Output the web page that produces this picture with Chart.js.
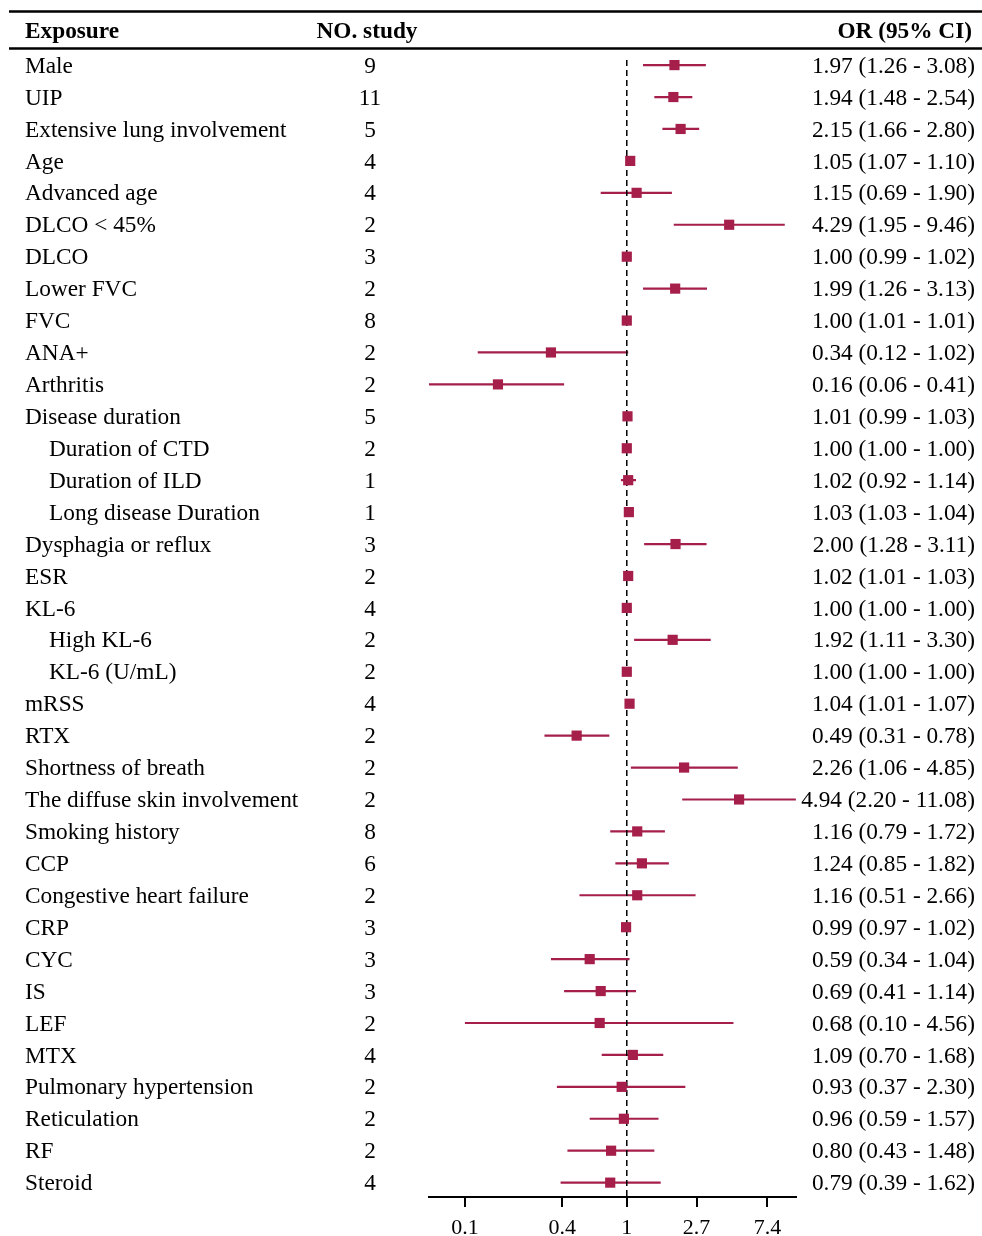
<!DOCTYPE html>
<html>
<head>
<meta charset="utf-8">
<script src="https://cdn.jsdelivr.net/npm/chart.js@4.4.1/dist/chart.umd.min.js"></script>
<style>
  body { margin: 0; background: #fff; }
  canvas { display: block; }
</style>
</head>
<body>
<canvas id="forest" width="982" height="1236"></canvas>
<script>
// rows of the forest plot
const exposures = [
  'Male', 'UIP', 'Extensive lung involvement', 'Age', 'Advanced age', 'DLCO < 45%',
  'DLCO', 'Lower FVC', 'FVC', 'ANA+', 'Arthritis', 'Disease duration',
  'Duration of CTD', 'Duration of ILD', 'Long disease Duration', 'Dysphagia or reflux',
  'ESR', 'KL-6', 'High KL-6', 'KL-6 (U/mL)', 'mRSS', 'RTX', 'Shortness of breath',
  'The diffuse skin involvement', 'Smoking history', 'CCP', 'Congestive heart failure',
  'CRP', 'CYC', 'IS', 'LEF', 'MTX', 'Pulmonary hypertension', 'Reticulation', 'RF', 'Steroid'
];
const subRows = ['Duration of CTD', 'Duration of ILD', 'Long disease Duration', 'High KL-6', 'KL-6 (U/mL)'];
const nStudy = [9, 11, 5, 4, 4, 2, 3, 2, 8, 2, 2, 5, 2, 1, 1, 3, 2, 4, 2, 2, 4, 2, 2, 2, 8, 6, 2, 3, 3, 3, 2, 4, 2, 2, 2, 4];
const orValues = [1.97, 1.94, 2.15, 1.05, 1.15, 4.29, 1.00, 1.99, 1.00, 0.34, 0.16, 1.01, 1.00, 1.02, 1.03, 2.00,
  1.02, 1.00, 1.92, 1.00, 1.04, 0.49, 2.26, 4.94, 1.16, 1.24, 1.16, 0.99, 0.59, 0.69, 0.68, 1.09, 0.93, 0.96, 0.80, 0.79];
const ciLow = [1.26, 1.48, 1.66, 1.07, 0.69, 1.95, 0.99, 1.26, 1.01, 0.12, 0.06, 0.99, 1.00, 0.92, 1.03, 1.28,
  1.01, 1.00, 1.11, 1.00, 1.01, 0.31, 1.06, 2.20, 0.79, 0.85, 0.51, 0.97, 0.34, 0.41, 0.10, 0.70, 0.37, 0.59, 0.43, 0.39];
const ciHigh = [3.08, 2.54, 2.80, 1.10, 1.90, 9.46, 1.02, 3.13, 1.01, 1.02, 0.41, 1.03, 1.00, 1.14, 1.04, 3.11,
  1.03, 1.00, 3.30, 1.00, 1.07, 0.78, 4.85, 11.08, 1.72, 1.82, 2.66, 1.02, 1.04, 1.14, 4.56, 1.68, 2.30, 1.57, 1.48, 1.62];
const tickValues = [0.1, 0.4, 1, 2.7, 7.4];
const tickLabels = ['0.1', '0.4', '1', '2.7', '7.4'];

const markColor = '#a51f4a';
const serif = '"Liberation Serif", "Times New Roman", serif';

const boxes = orValues.map((v, i) => ({ x: v, y: i }));
const ciSegments = [];
ciLow.forEach((lo, i) => {
  ciSegments.push({ x: lo, y: i }, { x: ciHigh[i], y: i }, { x: null, y: null });
});

// table text: headers, row labels, study counts, OR (95% CI)
const tableText = {
  id: 'tableText',
  afterDraw(chart) {
    const ctx = chart.ctx;
    const y = chart.scales.y;
    ctx.save();
    ctx.strokeStyle = '#000';
    ctx.lineWidth = 2.5;
    ctx.beginPath();
    ctx.moveTo(9, 11.5); ctx.lineTo(982, 11.5);
    ctx.moveTo(9, 48.5); ctx.lineTo(982, 48.5);
    ctx.stroke();

    ctx.fillStyle = '#000';
    ctx.textBaseline = 'middle';
    ctx.font = 'bold 23.3px ' + serif;
    ctx.textAlign = 'left';
    ctx.fillText('Exposure', 25, 31.5);
    ctx.textAlign = 'center';
    ctx.fillText('NO. study', 367, 31.5);
    ctx.textAlign = 'right';
    ctx.fillText('OR (95% CI)', 972, 31.5);

    ctx.font = '23.3px ' + serif;
    exposures.forEach((name, i) => {
      const py = y.getPixelForValue(i) + 1.5;
      ctx.textAlign = 'left';
      ctx.fillText(name, subRows.includes(name) ? 49 : 25, py);
      ctx.textAlign = 'center';
      ctx.fillText(String(nStudy[i]), 370, py);
      ctx.textAlign = 'right';
      ctx.fillText(orValues[i].toFixed(2) + ' (' + ciLow[i].toFixed(2) + ' - ' + ciHigh[i].toFixed(2) + ')', 975, py);
    });
    ctx.restore();
  }
};

new Chart(document.getElementById('forest'), {
  type: 'scatter',
  data: {
    datasets: [
      {
        data: boxes,
        pointStyle: 'rect',
        pointRadius: 7.2,
        backgroundColor: markColor,
        borderColor: markColor,
        borderWidth: 0,
        order: 0
      },
      {
        data: [{ x: 1, y: -0.16 }, { x: 1, y: 35.45 }],
        showLine: true,
        pointRadius: 0,
        borderColor: '#000',
        borderWidth: 1.5,
        borderDash: [6, 4],
        order: 1
      },
      {
        data: ciSegments,
        showLine: true,
        spanGaps: false,
        pointRadius: 0,
        borderColor: markColor,
        borderWidth: 2.2,
        order: 2
      }
    ]
  },
  options: {
    responsive: false,
    animation: false,
    layout: { padding: { left: 429, right: 186, top: 60, bottom: 0 } },
    plugins: { legend: { display: false }, tooltip: { enabled: false } },
    scales: {
      x: {
        type: 'logarithmic',
        min: 0.06,
        max: 11.1,
        afterBuildTicks: scale => { scale.ticks = tickValues.map(v => ({ value: v })); },
        afterFit: scale => { scale.height = 39; },
        ticks: {
          autoSkip: false,
          maxRotation: 0,
          padding: 8,
          color: '#000',
          font: { family: serif, size: 22 },
          callback: (value) => tickLabels[tickValues.indexOf(value)]
        },
        grid: { drawOnChartArea: false, drawTicks: true, tickLength: 10, color: '#000', lineWidth: 2 },
        border: { display: true, color: '#000', width: 2 }
      },
      y: {
        type: 'linear',
        display: false,
        reverse: true,
        min: -0.16,
        max: 35.45
      }
    }
  },
  plugins: [tableText]
});
</script>
</body>
</html>
